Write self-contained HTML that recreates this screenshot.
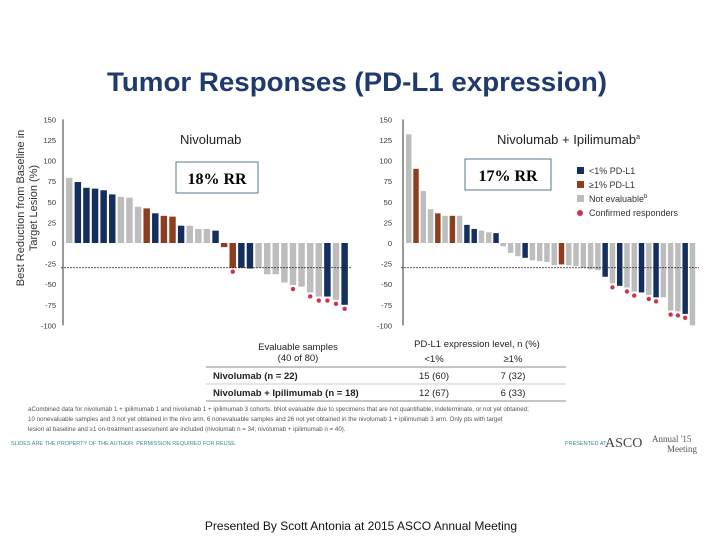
<!DOCTYPE html>
<html><head><meta charset="utf-8"><style>
body{margin:0;background:#fff;font-family:"Liberation Sans",sans-serif;}
#wrap{position:relative;width:720px;height:540px;overflow:hidden;background:#fff}
</style></head><body>
<div id="wrap">
<svg id="svg" width="720" height="540" style="position:absolute;left:0;top:0">
<text x="107" y="91" font-size="26.5" font-weight="bold" fill="#1f3b6e" textLength="500" lengthAdjust="spacingAndGlyphs" font-family="Liberation Sans, sans-serif">Tumor Responses (PD-L1 expression)</text>
<g transform="translate(24,208) rotate(-90)"><text x="0" y="0" font-size="11" fill="#333" text-anchor="middle">Best Reduction from Baseline in</text><text x="0" y="13" font-size="11" fill="#333" text-anchor="middle">Target Lesion (%)</text></g>
<text x="180" y="144" font-size="13" fill="#222">Nivolumab</text>
<text x="497" y="144" font-size="13" fill="#222">Nivolumab + Ipilimumab<tspan font-size="7" dy="-5">a</tspan></text>
<g id="left"></g>
<g id="right"></g>
<rect x="176" y="162" width="82" height="31" fill="#fff" stroke="#5a7a8a"/>
<text x="217" y="184" font-size="16" font-weight="bold" font-family="Liberation Serif, serif" text-anchor="middle">18% RR</text>
<rect x="465" y="159" width="86" height="31" fill="#fff" stroke="#5a7a8a"/>
<text x="508" y="181" font-size="16" font-weight="bold" font-family="Liberation Serif, serif" text-anchor="middle">17% RR</text>
<g font-size="9" fill="#333">
<rect x="577" y="167" width="7" height="7" fill="#142f5e"/><text x="589" y="174">&lt;1% PD-L1</text>
<rect x="577" y="181" width="7" height="7" fill="#8e3e1e"/><text x="589" y="188">≥1% PD-L1</text>
<rect x="577" y="195" width="7" height="7" fill="#bdbdbd"/><text x="589" y="202">Not evaluable<tspan font-size="6" dy="-4">b</tspan></text>
<circle cx="580" cy="213" r="3" fill="#c8374a"/><text x="589" y="216">Confirmed responders</text>
</g>
<g font-size="9.5" fill="#222">
<text x="298" y="350" text-anchor="middle">Evaluable samples</text>
<text x="298" y="361" text-anchor="middle">(40 of 80)</text>
<text x="477" y="347" text-anchor="middle">PD-L1 expression level, n (%)</text>
<text x="434" y="362" text-anchor="middle">&lt;1%</text><text x="513" y="362" text-anchor="middle">≥1%</text>
<line x1="206" y1="367" x2="566" y2="367" stroke="#888"/>
<text x="213" y="379" font-weight="bold">Nivolumab (n = 22)</text><text x="434" y="379" text-anchor="middle">15 (60)</text><text x="513" y="379" text-anchor="middle">7 (32)</text>
<line x1="206" y1="384" x2="566" y2="384" stroke="#ccc"/>
<text x="213" y="396" font-weight="bold">Nivolumab + Ipilimumab (n = 18)</text><text x="434" y="396" text-anchor="middle">12 (67)</text><text x="513" y="396" text-anchor="middle">6 (33)</text>
<line x1="206" y1="401" x2="566" y2="401" stroke="#888"/>
</g>
<g font-size="6.2" fill="#555">
<text x="28" y="411">aCombined data for nivolumab 1 + ipilimumab 1 and nivolumab 1 + ipilimumab 3 cohorts. bNot evaluable due to specimens that are not quantifiable, indeterminate, or not yet obtained;</text>
<text x="28" y="421">10 nonevaluable samples and 3 not yet obtained in the nivo arm, 6 nonevaluable samples and 26 not yet obtained in the nivolumab 1 + ipilimumab 3 arm. Only pts with target</text>
<text x="28" y="431">lesion at baseline and ≥1 on-treatment assessment are included (nivolumab n = 34; nivolumab + ipilimumab n = 40).</text>
</g>
<text x="11" y="445" font-size="5.5" fill="#3a8a9a">SLIDES ARE THE PROPERTY OF THE AUTHOR. PERMISSION REQUIRED FOR REUSE.</text>
<text x="565" y="445" font-size="5.5" fill="#3a8a9a">PRESENTED AT:</text>
<text x="605" y="447" font-size="14" fill="#444" font-family="Liberation Serif, serif">ASCO</text>
<text x="652" y="442" font-size="9" fill="#555" font-family="Liberation Serif, serif">Annual '15</text>
<text x="667" y="452" font-size="9" fill="#555" font-family="Liberation Serif, serif">Meeting</text>
<text x="361" y="530" font-size="12" fill="#111" text-anchor="middle">Presented By Scott Antonia at 2015 ASCO Annual Meeting</text>
</svg>
</div>
<script>
const yTicks=[150,125,100,75,50,25,0,-25,-50,-75,-100];
const leftValues=[79,74,67,66,64,59,56,55,44,42,36,33,32,21,21,17,17,15,-5,-30,-30,-31,-30,-38,-38,-48,-51,-53,-60,-65,-65,-69,-75];
const leftGroups=["g","n","n","n","n","n","g","g","g","b","n","b","b","n","g","g","g","n","b","b","n","n","g","g","g","g","g","g","g","g","n","g","n"];
const leftResponders=[0,0,0,0,0,0,0,0,0,0,0,0,0,0,0,0,0,0,0,1,0,0,0,0,0,0,1,0,1,1,1,1,1];
const rightValues=[132,90,63,41,36,33,33,33,22,17,15,13,12,-4,-12,-16,-18,-21,-22,-23,-27,-26,-27,-28,-30,-32,-33,-41,-49,-52,-54,-59,-60,-63,-66,-66,-82,-83,-86,-100];
const rightGroups=["g","b","g","g","b","g","b","g","n","n","g","g","n","g","g","g","n","g","g","g","g","b","g","g","g","g","g","n","g","n","g","g","n","g","n","g","g","g","n","g"];
const rightResponders=[0,0,0,0,0,0,0,0,0,0,0,0,0,0,0,0,0,0,0,0,0,0,0,0,0,0,0,0,1,0,1,1,0,1,1,0,1,1,1,0];
const threshold=-30;
const colors={n:"#142f5e",b:"#8e3e1e",g:"#bdbdbd"};
const NS="http://www.w3.org/2000/svg";
function yScale(v){return 243-v*0.824;}
function mk(tag,attrs,parent){const e=document.createElementNS(NS,tag);for(const k in attrs)e.setAttribute(k,attrs[k]);parent.appendChild(e);return e;}
function panel(gid,axisX,x0,x1,values,groups,resp,tickX){
  const g=document.getElementById(gid);
  const ax=mk("line",{x1:axisX,y1:yScale(150),x2:axisX,y2:yScale(-100),stroke:"#333","stroke-width":1},g);
  
  
  yTicks.forEach(t=>{
    const tx=mk("text",{x:tickX,y:yScale(t)+3,"font-size":7.5,fill:"#333","text-anchor":"end"},g);
    tx.textContent=t;
    
    
  });
  const n=values.length,step=(x1-x0)/n,w=step*0.75;
  values.forEach((v,i)=>{
    const x=x0+i*step;
    const r=mk("rect",{x:x,y:Math.min(yScale(v),yScale(0)),width:w,height:Math.abs(yScale(v)-yScale(0)),fill:colors[groups[i]]},g);
    
    
    if(resp[i]){
      const c=mk("circle",{cx:x+w/2,cy:yScale(v)+4,r:2.2,fill:"#c8374a"},g);
      
      
    }
  });
  const d=mk("line",{x1:axisX-2,y1:yScale(threshold),x2:x1+2,y2:yScale(threshold),stroke:"#222","stroke-width":0.8,"stroke-dasharray":"2,1"},g);
  
  
}
panel("left",63,66,350,leftValues,leftGroups,leftResponders,56);
panel("right",403,406,697,rightValues,rightGroups,rightResponders,392);
</script>
</body></html>
